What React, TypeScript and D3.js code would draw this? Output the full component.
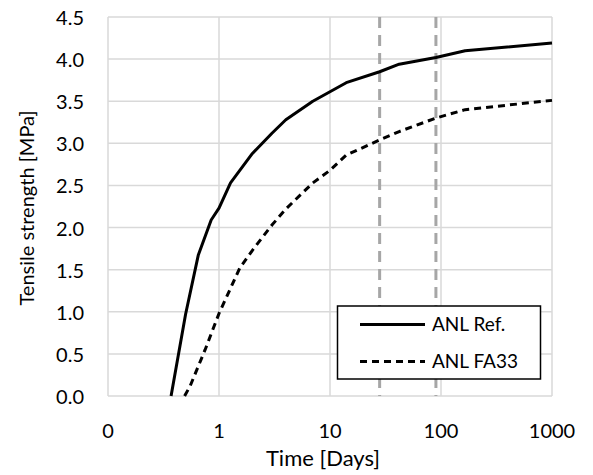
import * as d3 from 'd3';
import { useEffect, useRef } from 'react';

// time in days, strength in MPa
const refDays = [0.37, 0.5, 0.65, 0.85, 1, 1.27, 2, 3, 4, 7, 14, 28, 42, 90, 165, 1000];
const refMPa = [0, 0.97, 1.67, 2.09, 2.23, 2.53, 2.88, 3.12, 3.28, 3.5, 3.72, 3.85, 3.94, 4.02, 4.1, 4.19];
const faDays = [0.49, 0.55, 0.75, 1, 1.54, 2, 3, 4, 7, 10, 14, 28, 42, 90, 165, 1000];
const faMPa = [0, 0.12, 0.55, 0.98, 1.52, 1.73, 2.03, 2.22, 2.53, 2.68, 2.86, 3.04, 3.14, 3.3, 3.4, 3.51];
const markerDays = [28, 90];
const xTicks = [0.1, 1, 10, 100, 1000];
const xTickLabels = ['0', '1', '10', '100', '1000'];
const yTicks = [0, 0.5, 1, 1.5, 2, 2.5, 3, 3.5, 4, 4.5];
const seriesNames = ['ANL Ref.', 'ANL FA33'];

const W = 593;
const H = 475;
const FONT = 'Lato, "Open Sans", sans-serif';

const App = () => {
	const svgRef = useRef<SVGSVGElement>(null);

	useEffect(() => {
		const m = { left: 108, right: 41, top: 17, bottom: 79 };
		const x = d3.scaleLog().domain([0.1, 1000]).range([m.left, W - m.right]);
		const y = d3.scaleLinear().domain([0, 4.5]).range([H - m.bottom, m.top]);

		const svg = d3.select(svgRef.current);
		svg.selectAll('*').remove();

		// grid
		const grid = svg.append('g').attr('stroke', '#d9d9d9').attr('stroke-width', 1.5);
		grid.selectAll('line.h').data(yTicks).join('line')
			.attr('x1', x(0.1)).attr('x2', x(1000))
			.attr('y1', d => y(d)).attr('y2', d => y(d));
		grid.selectAll('line.v').data(xTicks).join('line')
			.attr('y1', y(0)).attr('y2', y(4.5))
			.attr('x1', d => x(d)).attr('x2', d => x(d));

		// 28 / 90 day markers
		svg.append('g').selectAll('line').data(markerDays).join('line')
			.attr('x1', d => x(d)).attr('x2', d => x(d))
			.attr('y1', y(4.5)).attr('y2', y(0))
			.attr('stroke', '#a6a6a6').attr('stroke-width', 3)
			.attr('stroke-dasharray', '11 7');

		// tick labels
		svg.append('g').selectAll('text').data(yTicks).join('text')
			.attr('x', 84).attr('y', d => y(d)).attr('dy', '0.4em')
			.attr('text-anchor', 'end')
			.attr('font-family', FONT).attr('font-size', 20).attr('fill', '#000')
			.text(d => d.toFixed(1));
		svg.append('g').selectAll('text').data(xTicks).join('text')
			.attr('x', d => x(d)).attr('y', 438)
			.attr('text-anchor', 'middle')
			.attr('font-family', FONT).attr('font-size', 20).attr('fill', '#000')
			.text((_, i) => xTickLabels[i]);

		// axis titles
		svg.append('text')
			.attr('x', 323).attr('y', 466).attr('text-anchor', 'middle')
			.attr('font-family', FONT).attr('font-size', 22)
			.text('Time [Days]');
		svg.append('text')
			.attr('transform', 'translate(34,208) rotate(-90)')
			.attr('text-anchor', 'middle')
			.attr('font-family', FONT).attr('font-size', 20)
			.text('Tensile strength [MPa]');

		const refPts = refDays.map((d, i) => [x(d), y(refMPa[i])] as [number, number]);
		const faPts = faDays.map((d, i) => [x(d), y(faMPa[i])] as [number, number]);

		svg.append('path')
			.attr('fill', 'none').attr('stroke', '#000').attr('stroke-width', 3)
			.attr('stroke-linejoin', 'round')
			.attr('d', d3.line()(refPts));
		svg.append('path')
			.attr('fill', 'none').attr('stroke', '#000').attr('stroke-width', 3)
			.attr('stroke-dasharray', '7 5')
			.attr('d', d3.line()(faPts));

		// legend
		const lg = svg.append('g');
		lg.append('rect')
			.attr('x', 337.5).attr('y', 306).attr('width', 203).attr('height', 73)
			.attr('fill', '#fff').attr('stroke', '#000').attr('stroke-width', 1.5);
		seriesNames.forEach((name, i) => {
			const ly = 324.5 + i * 37;
			lg.append('line')
				.attr('x1', 360).attr('x2', 425).attr('y1', ly).attr('y2', ly)
				.attr('stroke', '#000').attr('stroke-width', 3)
				.attr('stroke-dasharray', i === 0 ? null : '7 5');
			lg.append('text')
				.attr('x', 432).attr('y', ly).attr('dy', '0.36em')
				.attr('font-family', FONT).attr('font-size', 19)
				.text(name);
		});
	}, []);

	return (
		<svg
			ref={svgRef}
			width={W}
			height={H}
			style={{ position: 'absolute', left: 0, top: 0, background: '#fff' }}
		/>
	);
};

export default App;
